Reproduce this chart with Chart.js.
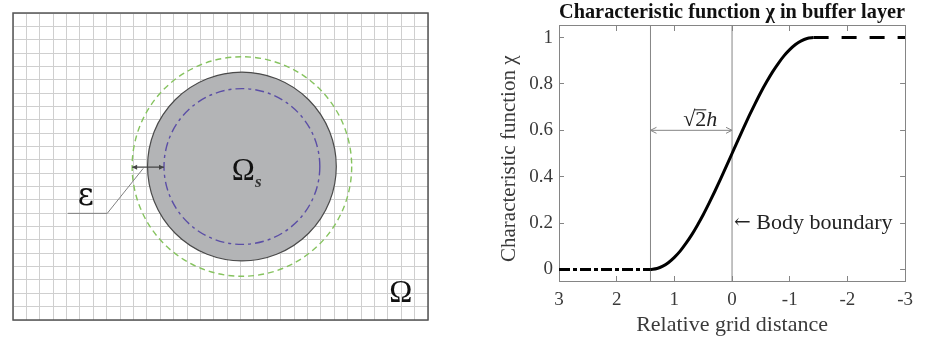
<!DOCTYPE html>
<html>
<head>
<meta charset="utf-8">
<script src="https://cdn.jsdelivr.net/npm/chart.js@4.4.1/dist/chart.umd.min.js"></script>
<style>
html, body { margin: 0; padding: 0; background: #ffffff; }
#wrap { position: relative; width: 926px; height: 338px; overflow: hidden; }
#domain-chart { position: absolute; left: 0; top: 0; }
#chi-chart { position: absolute; left: 460px; top: 0; }
</style>
</head>
<body>
<div id="wrap">
  <canvas id="domain-chart" width="470" height="338"></canvas>
  <canvas id="chi-chart" width="466" height="338"></canvas>
</div>
<script>
// ---- left panel: grid domain with immersed body (grid units) ----
let grid_cells_x = 31;
let grid_cells_y = 23;
let body_center = [17.1, 11.5];
let body_radius = 7.05;
let buffer_outer_radius = 8.2;
let buffer_inner_radius = 5.82;
let eps_arrow_x = [8.9, 11.28];
let eps_arrow_y = [11.45, 11.45];
let leader_x = [9.73, 7.04, 4.09];
let leader_y = [11.36, 7.99, 7.99];

// ---- right panel: characteristic function ----
let x_ticks = [3, 2, 1, 0, -1, -2, -3];
let y_ticks = [0, 0.2, 0.4, 0.6, 0.8, 1];
let zero_x = [3, 1.414];
let zero_y = [0, 0];
let ramp_x = [1.414, 1.3, 1.2, 1.1, 1.0, 0.9, 0.8, 0.7, 0.6, 0.5, 0.4, 0.3, 0.2, 0.1, 0,
              -0.1, -0.2, -0.3, -0.4, -0.5, -0.6, -0.7, -0.8, -0.9, -1.0, -1.1, -1.2, -1.3, -1.414];
let ramp_y = [0, 0.004, 0.014, 0.03, 0.052, 0.079, 0.112, 0.149, 0.191, 0.236, 0.285, 0.336, 0.389, 0.444, 0.5,
              0.556, 0.611, 0.664, 0.715, 0.764, 0.809, 0.851, 0.888, 0.921, 0.948, 0.97, 0.986, 0.996, 1];
let one_x = [-1.414, -3];
let one_y = [1, 1];
let guide_x = [1.414, 0];
let guide_span_y = [-0.05, 1.05];
let width_arrow_x = [1.414, 0];
let width_arrow_y = [0.6, 0.6];

const serif = "'Liberation Serif', 'DejaVu Serif', serif";
const axis_gray = "#858585";
const text_gray = "#3a3a3a";

function pts(xs, ys) {
    return xs.map((v, i) => ({ x: v, y: ys[i] }));
}

// one grid line per cell edge
function cellEdges(n) {
    let edges = [];
    for (let i = 0; i <= n; i++) {
        edges.push({ value: i });
    }
    return edges;
}

// circles, labels and frame of the domain sketch
const domainDeco = {
    id: "domainDeco",
    beforeDatasetsDraw(chart) {
        const ctx = chart.ctx;
        const x = chart.scales.x, y = chart.scales.y;
        const cx = x.getPixelForValue(body_center[0]);
        const cy = y.getPixelForValue(body_center[1]);
        const unit = x.getPixelForValue(1) - x.getPixelForValue(0);
        ctx.save();
        ctx.beginPath();
        ctx.arc(cx, cy, buffer_outer_radius * unit, 0, 2 * Math.PI);
        ctx.setLineDash([6, 4]);
        ctx.strokeStyle = "#86c35f";
        ctx.lineWidth = 1.4;
        ctx.stroke();

        ctx.beginPath();
        ctx.arc(cx, cy, body_radius * unit, 0, 2 * Math.PI);
        ctx.setLineDash([]);
        ctx.fillStyle = "#b3b4b6";
        ctx.fill();
        ctx.strokeStyle = "#4a4a4a";
        ctx.lineWidth = 1.2;
        ctx.stroke();

        ctx.beginPath();
        ctx.arc(cx, cy, buffer_inner_radius * unit, 0, 2 * Math.PI);
        ctx.setLineDash([9, 4, 3, 4]);
        ctx.strokeStyle = "#5b4ea6";
        ctx.lineWidth = 1.4;
        ctx.stroke();
        ctx.restore();
    },
    afterDatasetsDraw(chart) {
        const ctx = chart.ctx;
        const a = chart.chartArea;
        const x = chart.scales.x, y = chart.scales.y;
        ctx.save();
        // frame
        ctx.strokeStyle = "#555555";
        ctx.lineWidth = 1.5;
        ctx.strokeRect(a.left, a.top, a.right - a.left, a.bottom - a.top);

        // arrow heads of epsilon
        const ay = y.getPixelForValue(eps_arrow_y[0]);
        const x0 = x.getPixelForValue(eps_arrow_x[0]);
        const x1 = x.getPixelForValue(eps_arrow_x[1]);
        ctx.fillStyle = "#444444";
        ctx.beginPath();
        ctx.moveTo(x0, ay); ctx.lineTo(x0 + 5, ay - 2.5); ctx.lineTo(x0 + 5, ay + 2.5);
        ctx.closePath(); ctx.fill();
        ctx.beginPath();
        ctx.moveTo(x1, ay); ctx.lineTo(x1 - 5, ay - 2.5); ctx.lineTo(x1 - 5, ay + 2.5);
        ctx.closePath(); ctx.fill();

        // labels
        ctx.fillStyle = "#111111";
        ctx.textBaseline = "alphabetic";
        ctx.textAlign = "center";
        ctx.font = "31px " + serif;
        ctx.fillText("\u03A9", x.getPixelForValue(17.2), y.getPixelForValue(10.49));
        ctx.fillText("\u03A9", x.getPixelForValue(28.96), y.getPixelForValue(1.37));
        ctx.font = "31px 'DejaVu Serif', serif";
        ctx.fillText("\u03B5", x.getPixelForValue(5.44), y.getPixelForValue(8.61));
        ctx.textAlign = "left";
        ctx.font = "italic bold 17px " + serif;
        ctx.fillStyle = "#333333";
        ctx.fillText("s", x.getPixelForValue(18.07), y.getPixelForValue(9.99));
        ctx.restore();
    }
};

function hiddenAxis(maxVal) {
    return {
        type: "linear",
        min: 0,
        max: maxVal,
        afterBuildTicks: s => { s.ticks = cellEdges(maxVal); },
        ticks: { display: false, autoSkip: false },
        grid: { color: "#cfcfcf", lineWidth: 1, drawTicks: false },
        border: { display: false }
    };
}

let xDomain = hiddenAxis(grid_cells_x);
xDomain.afterFit = s => { s.height = 0; };
let yDomain = hiddenAxis(grid_cells_y);
yDomain.afterFit = s => { s.width = 0; };

new Chart(document.getElementById("domain-chart").getContext("2d"), {
    type: "scatter",
    data: {
        datasets: [
            {
                data: pts(eps_arrow_x, eps_arrow_y),
                showLine: true, borderColor: "#444444", borderWidth: 1.2, pointRadius: 0
            },
            {
                data: pts(leader_x, leader_y),
                showLine: true, borderColor: "#808080", borderWidth: 1, pointRadius: 0
            }
        ]
    },
    options: {
        responsive: false,
        animation: false,
        layout: { padding: { left: 13, top: 13, right: 42, bottom: 18 } },
        plugins: { legend: { display: false }, tooltip: { enabled: false } },
        scales: { x: xDomain, y: yDomain }
    },
    plugins: [domainDeco]
});

// annotations of the chi plot
const chiDeco = {
    id: "chiDeco",
    afterDatasetsDraw(chart) {
        const ctx = chart.ctx;
        const x = chart.scales.x, y = chart.scales.y;
        const ay = y.getPixelForValue(width_arrow_y[0]);
        const xl = x.getPixelForValue(width_arrow_x[0]);
        const xr = x.getPixelForValue(width_arrow_x[1]);
        ctx.save();
        ctx.strokeStyle = axis_gray;
        ctx.lineWidth = 1;
        ctx.beginPath();
        ctx.moveTo(xl + 6, ay - 3); ctx.lineTo(xl, ay); ctx.lineTo(xl + 6, ay + 3);
        ctx.moveTo(xr - 6, ay - 3); ctx.lineTo(xr, ay); ctx.lineTo(xr - 6, ay + 3);
        ctx.stroke();

        // sqrt(2) h label
        ctx.fillStyle = "#222222";
        ctx.textBaseline = "alphabetic";
        ctx.textAlign = "left";
        const base = ay - 4;
        ctx.font = "22px " + serif;
        const wRoot = ctx.measureText("\u221A").width;
        const wTwo = ctx.measureText("2").width;
        ctx.font = "italic 22px " + serif;
        const wH = ctx.measureText("h").width;
        let start = (xl + xr) / 2 + 9 - (wRoot + wTwo + wH) / 2;
        ctx.font = "22px " + serif;
        ctx.fillText("\u221A", start, base);
        ctx.fillText("2", start + wRoot, base);
        ctx.fillRect(start + wRoot - 1, base - 17, wTwo + 1, 1);
        ctx.font = "italic 22px " + serif;
        ctx.fillText("h", start + wRoot + wTwo, base);

        // body boundary label
        const by = y.getPixelForValue(0.2);
        ctx.textBaseline = "middle";
        ctx.font = "20px 'DejaVu Serif', serif";
        const bx = x.getPixelForValue(0) + 2;
        ctx.fillText("\u2190", bx, by);
        const wArrow = ctx.measureText("\u2190").width;
        ctx.font = "22px " + serif;
        ctx.fillText(" Body boundary", bx + wArrow, by);
        ctx.restore();
    }
};

function chiAxis(position, ticks, lo, hi, reverse) {
    return {
        type: "linear",
        position: position,
        reverse: reverse,
        min: lo,
        max: hi,
        afterBuildTicks: s => { s.ticks = ticks.map(v => ({ value: v })); },
        ticks: { font: { family: serif, size: 19 }, color: text_gray, callback: v => String(v) },
        grid: { drawOnChartArea: false, drawTicks: true, tickLength: -5, color: axis_gray, lineWidth: 1 },
        border: { display: true, color: axis_gray, width: 1 }
    };
}

let xChi = chiAxis("bottom", x_ticks, -3, 3, true);
xChi.ticks.padding = 13;
xChi.title = { display: true, text: "Relative grid distance", color: text_gray,
               font: { family: serif, size: 22 }, padding: { top: 0, bottom: 0 } };
xChi.afterFit = s => { s.height = 57; };

let xTop = chiAxis("top", x_ticks, -3, 3, true);
xTop.ticks.display = false;
xTop.afterFit = s => { s.height = 0; };

let yChi = chiAxis("left", y_ticks, -0.05, 1.05, false);
yChi.ticks.padding = 11;
yChi.title = { display: true, text: "Characteristic function \u03C7\u2002", color: text_gray,
               font: { family: serif, size: 21 }, padding: { top: 37, bottom: 0 } };
yChi.afterFit = s => { s.width = 99; };

let yRight = chiAxis("right", y_ticks, -0.05, 1.05, false);
yRight.ticks.display = false;
yRight.afterFit = s => { s.width = 0; };

new Chart(document.getElementById("chi-chart").getContext("2d"), {
    type: "scatter",
    data: {
        datasets: [
            {
                data: pts(ramp_x, ramp_y), xAxisID: "x", yAxisID: "y",
                showLine: true, borderColor: "#000000", borderWidth: 3, pointRadius: 0,
                cubicInterpolationMode: "monotone"
            },
            {
                data: pts(zero_x, zero_y), xAxisID: "x", yAxisID: "y",
                showLine: true, borderColor: "#000000", borderWidth: 3, pointRadius: 0,
                borderDash: [11, 3, 4, 3]
            },
            {
                data: pts(one_x, one_y), xAxisID: "x", yAxisID: "y",
                showLine: true, borderColor: "#000000", borderWidth: 3, pointRadius: 0,
                borderDash: [15, 13]
            },
            {
                data: pts([guide_x[0], guide_x[0]], guide_span_y), xAxisID: "x", yAxisID: "y",
                showLine: true, borderColor: axis_gray, borderWidth: 1, pointRadius: 0
            },
            {
                data: pts([guide_x[1], guide_x[1]], guide_span_y), xAxisID: "x", yAxisID: "y",
                showLine: true, borderColor: axis_gray, borderWidth: 1, pointRadius: 0
            },
            {
                data: pts(width_arrow_x, width_arrow_y), xAxisID: "x", yAxisID: "y",
                showLine: true, borderColor: axis_gray, borderWidth: 1, pointRadius: 0
            }
        ]
    },
    options: {
        responsive: false,
        animation: false,
        layout: { padding: { left: 0, right: 9, top: 0, bottom: 0 } },
        plugins: {
            legend: { display: false },
            tooltip: { enabled: false },
            title: {
                display: true,
                text: "Characteristic function \u03C7 in buffer layer",
                fullSize: false,
                color: "#111111",
                font: { family: serif, size: 22, weight: "bold", lineHeight: 1.15 },
                padding: { top: 0, bottom: 0.7 }
            }
        },
        scales: { x: xChi, x2: xTop, y: yChi, y2: yRight }
    },
    plugins: [chiDeco]
});
</script>
</body>
</html>
